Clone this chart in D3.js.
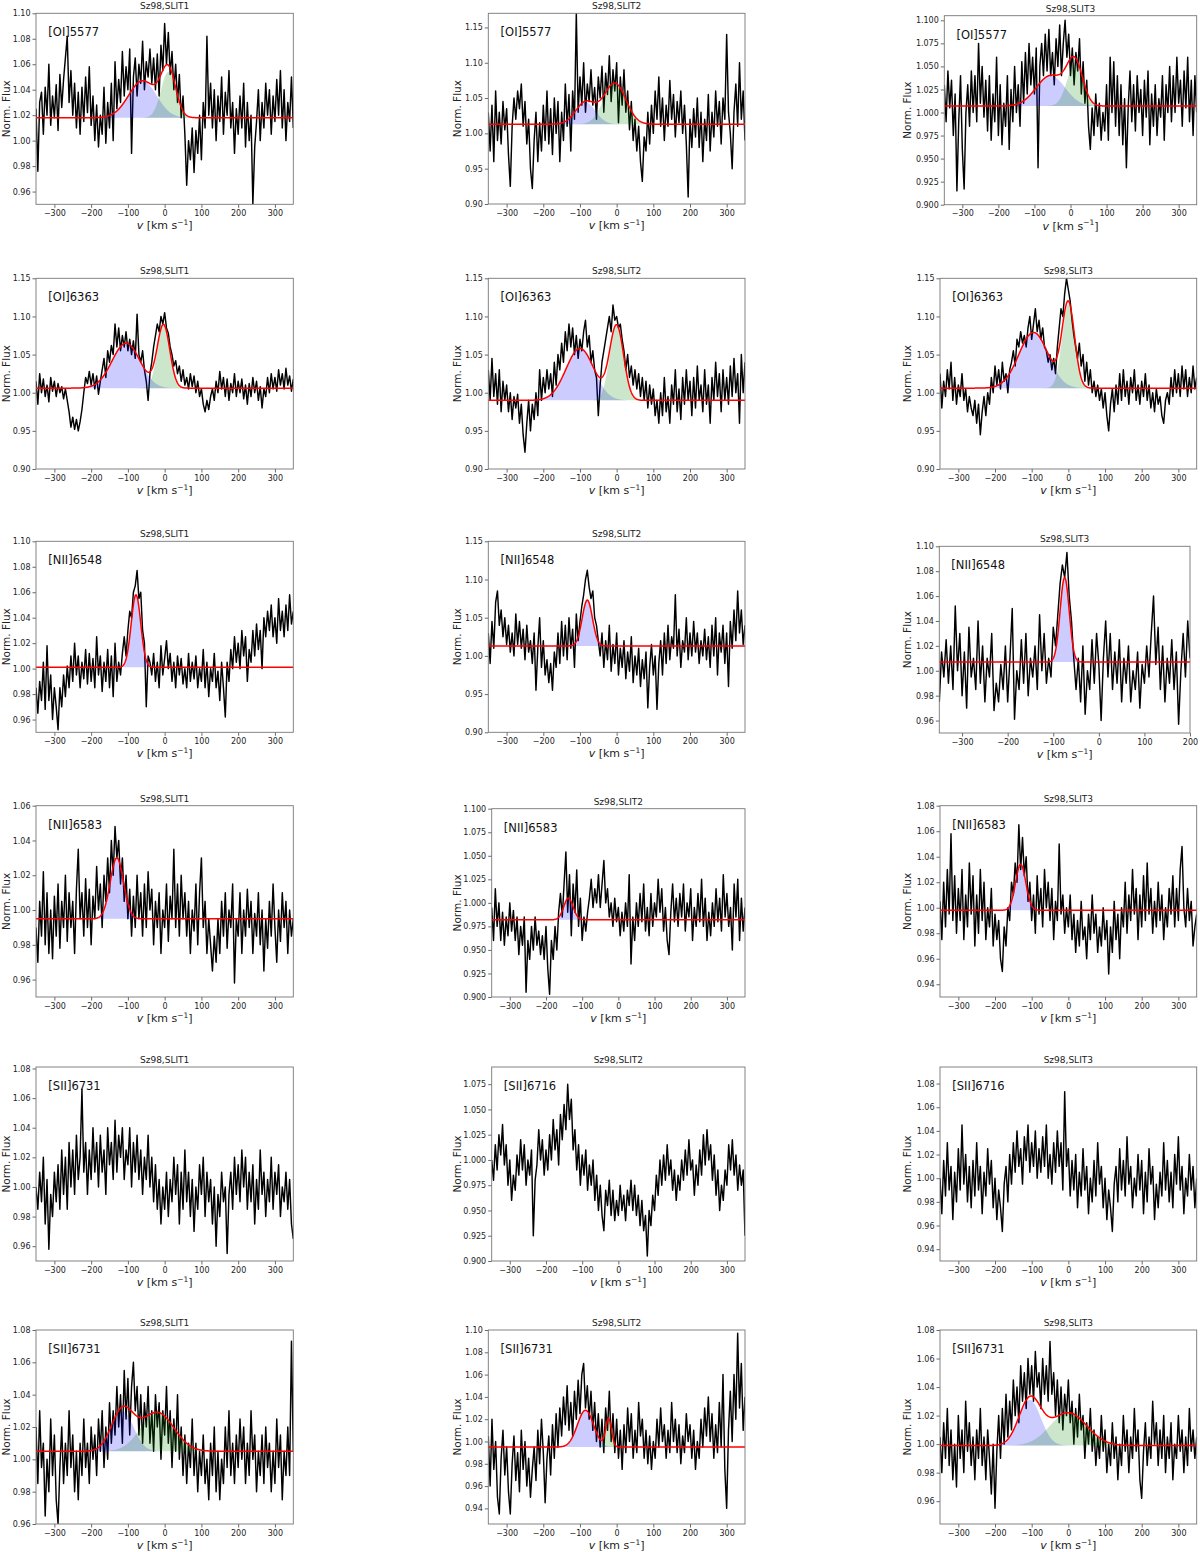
<!DOCTYPE html>
<html><head><meta charset="utf-8">
<script src="https://cdn.jsdelivr.net/npm/d3@7"></script>
<style>body{margin:0;background:#fff}svg{display:block}text{font-family:"DejaVu Sans",sans-serif}</style>
</head><body><svg id="c" width="1200" height="1552"></svg>
<script>
// ---------- DATA ----------
const velocityFull = d3.range(-350, 351, 5);   // km/s sampling grid
const velocityShort = d3.range(-350, 201, 5);

const lineNames = ["[OI]5577","[OI]5577","[OI]5577","[OI]6363","[OI]6363","[OI]6363",
  "[NII]6548","[NII]6548","[NII]6548","[NII]6583","[NII]6583","[NII]6583",
  "[SII]6731","[SII]6716","[SII]6716","[SII]6731","[SII]6731","[SII]6731"];
const slitNames = ["Sz98,SLIT1","Sz98,SLIT2","Sz98,SLIT3"];

const fluxOI5577_1 = [
1.025,0.976,1.030,1.038,1.005,1.042,1.020,1.060,1.012,1.035,
1.018,1.044,1.008,1.052,1.026,1.048,1.065,1.082,1.030,1.055,
1.020,1.045,1.010,1.038,1.005,1.042,1.015,1.050,1.022,1.058,
1.012,1.035,1.000,1.028,0.995,1.020,1.005,1.042,0.998,1.030,
1.010,1.045,1.000,1.062,1.025,1.048,1.030,1.070,1.035,1.058,
1.040,1.072,0.990,1.050,1.065,1.035,1.060,1.045,1.078,1.040,
1.062,1.050,1.072,1.045,1.065,1.040,1.068,1.035,1.075,1.055,
1.092,1.060,1.085,1.052,1.070,1.040,1.060,1.030,1.052,1.018,
1.035,1.005,0.965,1.000,0.985,1.010,0.975,1.008,0.990,1.020,
0.985,1.030,1.010,1.082,1.020,1.045,1.010,1.040,1.000,1.035,
1.015,1.050,1.005,1.038,1.020,1.055,1.010,1.030,0.990,1.025,
1.005,1.035,1.010,1.045,0.995,1.030,1.000,1.020,0.950,0.995,
1.015,1.040,1.000,1.030,1.010,1.045,1.020,1.040,1.005,1.035,
1.015,1.048,1.020,1.055,1.010,1.040,1.000,1.030,1.015,1.050,
1.010];
const fluxOI5577_2 = [
1.030,0.975,1.040,0.960,1.060,0.990,1.030,0.985,1.045,1.005,
1.035,0.970,0.925,1.010,1.050,1.020,1.060,1.035,1.070,1.010,
1.045,0.985,1.020,0.950,0.922,0.990,1.030,0.960,1.015,0.975,
1.040,0.990,1.060,0.985,1.035,0.970,1.050,1.000,1.045,0.960,
1.030,0.990,1.070,1.010,1.055,0.975,1.060,1.020,1.170,1.030,
1.080,1.040,1.100,1.030,1.070,1.045,1.090,1.040,1.065,1.020,
1.080,1.050,1.095,1.030,1.085,1.055,1.110,1.045,1.090,1.060,
1.100,1.015,1.080,1.040,1.090,1.030,1.060,1.005,1.045,0.990,
1.020,0.975,1.010,0.960,0.932,0.995,0.975,1.030,0.985,1.040,
1.000,1.060,1.020,1.080,1.010,1.050,0.990,1.040,1.010,1.075,
1.020,1.055,0.995,1.045,1.015,1.060,1.000,1.040,0.985,0.910,
1.020,0.980,1.035,0.995,1.050,0.980,1.030,0.960,1.020,0.990,
1.055,0.975,1.030,0.995,1.060,1.010,1.045,0.985,1.050,1.020,
1.140,1.030,1.000,0.950,1.030,1.070,1.010,1.100,1.020,1.060,
0.990];
const fluxOI5577_3 = [
1.030,0.990,1.045,1.005,1.035,0.975,1.020,0.915,0.990,1.040,
0.960,0.917,1.000,1.030,0.985,1.045,1.000,1.040,0.990,1.075,
1.010,1.050,0.995,1.035,0.980,1.040,0.970,1.020,0.990,1.060,
0.975,1.030,0.965,1.010,0.985,1.040,0.960,1.025,0.990,1.050,
1.000,1.030,0.985,1.055,1.010,1.065,1.020,1.075,1.030,1.060,
1.020,1.070,0.940,1.050,1.075,1.040,1.085,1.045,1.090,1.040,
1.065,1.030,1.080,1.050,1.095,1.040,1.075,1.100,1.060,1.085,
1.040,1.070,1.030,1.065,1.045,1.080,1.020,1.055,1.010,1.035,
0.985,0.960,1.005,0.975,1.020,0.985,1.010,0.970,1.000,0.980,
1.030,0.970,1.060,1.000,1.055,0.985,1.040,0.975,1.030,0.965,
1.015,0.940,1.005,1.045,0.990,1.030,0.980,1.040,1.000,1.025,
0.975,1.035,0.995,1.045,0.965,1.020,0.985,1.030,0.975,1.015,
0.995,1.040,0.970,1.030,1.000,1.050,0.990,1.040,1.000,1.060,
1.010,1.035,0.985,1.045,1.005,1.060,0.990,1.035,0.975,1.040,
1.000];
const fluxOI6363_1 = [
1.015,0.985,1.025,1.000,1.018,0.995,1.010,0.988,1.020,1.002,
1.015,0.995,1.012,1.000,1.008,0.992,1.005,0.990,0.975,0.955,
0.968,0.952,0.965,0.950,0.962,0.978,1.000,1.020,1.012,1.028,
1.010,1.025,1.005,1.022,0.998,1.015,1.030,1.045,1.020,1.055,
1.040,1.062,1.050,1.090,1.060,1.085,1.055,1.075,1.060,1.080,
1.055,1.070,1.050,1.068,1.045,1.103,1.050,1.040,1.055,1.030,
1.015,0.990,1.025,1.040,1.060,1.075,1.090,1.080,1.100,1.090,
1.105,1.085,1.078,1.060,1.050,1.035,1.042,1.025,1.035,1.015,
1.030,1.010,1.020,1.005,1.025,1.008,1.022,1.000,1.015,0.995,
1.005,0.985,0.975,0.990,0.978,0.995,1.005,0.990,1.015,1.000,
1.028,1.005,1.020,0.995,1.018,0.990,1.012,1.000,1.025,0.995,
1.015,1.000,1.018,0.992,1.010,0.985,1.012,0.995,1.020,1.000,
1.015,0.990,1.008,0.980,1.005,0.995,1.020,1.000,1.025,1.005,
1.020,1.002,1.030,1.010,1.025,1.005,1.032,1.010,1.022,1.002,
1.018];
const fluxOI6363_2 = [
1.030,0.990,1.045,0.995,1.025,0.985,1.030,0.975,1.015,0.990,
1.010,0.975,1.000,0.965,0.995,0.980,0.998,0.960,0.985,0.945,
0.922,0.960,0.990,0.950,0.985,0.965,1.000,0.970,1.030,0.990,
1.020,1.000,1.030,1.005,1.025,0.995,1.040,1.010,1.050,1.030,
1.065,1.040,1.080,1.055,1.090,1.060,1.085,1.050,1.075,1.045,
1.070,1.055,1.080,1.095,1.060,1.075,1.040,1.055,1.030,1.020,
0.970,1.010,1.040,1.055,1.070,1.085,1.100,1.080,1.115,1.095,
1.100,1.085,1.090,1.070,1.055,1.030,1.050,1.020,1.035,1.010,
1.030,1.005,1.025,0.995,1.020,0.990,1.015,0.980,1.010,0.985,
1.005,0.970,0.990,0.960,1.000,0.970,1.020,0.975,0.995,0.960,
1.010,0.985,1.030,0.975,1.005,0.965,1.020,0.985,1.030,0.990,
1.015,0.970,1.020,0.980,1.035,0.990,1.010,0.975,1.030,0.985,
1.010,0.960,1.020,0.990,1.040,0.995,1.025,0.975,1.030,0.990,
1.020,0.985,1.035,0.995,1.045,1.000,1.025,0.960,1.050,1.000,
1.040];
const fluxOI6363_3 = [
1.025,0.980,1.015,0.995,1.030,1.005,1.040,0.990,1.020,0.985,
1.010,0.995,1.025,0.990,1.005,0.975,0.995,0.980,0.970,0.990,
0.960,0.985,0.945,0.975,0.995,0.970,1.000,0.985,1.020,1.000,
1.035,1.010,1.030,1.005,1.040,1.015,1.025,1.000,1.030,1.040,
1.055,1.035,1.070,1.060,1.080,1.065,1.075,1.060,1.085,1.100,
1.070,1.090,1.110,1.080,1.095,1.070,1.085,1.060,1.055,1.040,
1.050,1.030,1.045,1.025,1.060,1.085,1.110,1.100,1.130,1.150,
1.135,1.120,1.095,1.075,1.060,1.045,1.065,1.035,1.050,1.015,
1.040,1.010,1.030,1.000,1.015,0.995,1.010,0.990,1.005,0.980,
1.000,0.970,0.950,0.985,1.005,0.975,1.010,0.985,1.025,0.990,
1.030,0.995,1.015,0.985,1.020,1.000,1.030,0.990,1.010,0.985,
1.015,0.995,1.025,0.990,1.010,0.980,1.000,0.975,1.005,0.985,
0.995,0.970,0.960,0.990,1.000,0.985,1.020,0.995,1.030,1.000,
1.025,0.995,1.035,1.005,1.030,0.995,1.020,1.000,1.035,1.005,
1.020];
const fluxNII6548_1 = [
0.985,0.965,0.990,0.975,1.005,0.968,1.018,0.975,0.995,0.960,
0.985,0.970,0.952,0.985,0.970,0.995,0.978,1.002,0.985,1.010,
0.990,1.020,0.995,1.010,0.985,1.005,0.992,1.015,0.988,1.012,
0.990,1.008,0.985,1.025,0.995,1.010,0.982,1.005,0.990,1.015,
0.985,1.010,0.978,1.020,0.990,1.005,0.995,1.012,1.025,1.010,
1.030,1.045,1.040,1.060,1.065,1.077,1.055,1.060,1.030,1.020,
0.970,1.010,1.005,0.995,1.012,0.990,1.005,0.985,1.018,0.995,
1.008,1.022,1.000,1.012,0.990,1.005,0.985,1.010,0.995,1.008,
0.988,1.000,0.985,1.012,0.990,1.005,0.992,1.010,0.985,1.000,
0.990,1.015,0.985,1.005,0.978,1.000,0.990,1.012,0.985,0.998,
0.975,1.005,0.985,0.962,1.005,0.990,1.015,1.000,1.025,1.005,
1.020,1.000,1.030,1.010,1.025,0.990,1.015,1.005,1.030,1.010,
1.035,1.015,1.030,1.000,1.040,1.025,1.045,1.030,1.050,1.025,
1.040,1.020,1.055,1.030,1.045,1.025,1.050,1.030,1.058,1.035,
1.045];
const fluxNII6548_2 = [
1.030,0.990,1.045,1.010,1.070,1.085,1.040,1.060,1.025,1.050,
1.015,1.040,1.005,1.030,1.000,1.055,1.015,1.045,1.010,1.035,
0.995,1.040,1.005,1.020,0.990,1.030,0.955,1.010,1.050,0.985,
1.020,0.975,0.995,0.965,0.990,0.955,1.005,0.985,1.030,0.990,
1.045,1.000,1.040,0.995,1.050,1.010,1.035,0.985,1.055,1.020,
1.045,1.065,1.080,1.100,1.112,1.090,1.075,1.085,1.050,1.040,
1.020,1.000,1.030,0.985,1.020,0.995,1.040,0.980,1.015,0.990,
1.030,0.975,1.010,0.985,1.020,0.970,1.005,0.980,1.025,0.965,
1.000,0.975,1.010,0.960,0.995,0.970,1.005,0.932,0.985,1.015,
0.975,1.000,0.930,0.990,1.020,0.975,1.030,0.990,1.040,0.995,
1.025,1.010,1.080,1.000,1.035,0.985,1.020,1.005,1.050,0.995,
1.030,1.000,1.045,1.005,1.030,0.990,1.020,1.000,1.035,0.995,
1.025,0.985,1.040,1.000,1.050,0.975,1.030,1.005,1.040,0.990,
1.030,0.960,1.045,1.010,1.060,1.020,1.085,1.030,1.060,1.015,
1.040];
const fluxNII6548_3 = [
0.975,1.015,0.995,1.025,0.990,1.020,0.985,1.052,1.000,1.030,
0.980,1.015,0.970,1.035,0.995,1.010,0.985,1.040,0.990,1.020,
0.975,1.010,0.995,1.030,0.968,0.990,0.975,1.005,0.985,1.020,
0.975,1.010,1.050,0.961,1.000,0.985,1.025,0.990,1.030,0.980,
1.010,0.995,1.020,0.985,1.045,1.000,1.030,0.990,1.010,0.995,
1.035,1.020,1.045,1.070,1.085,1.075,1.095,1.060,1.040,1.010,
0.985,1.010,0.975,1.020,0.965,1.000,0.985,1.025,0.990,1.030,
1.005,0.960,1.010,1.040,0.995,1.030,0.985,1.015,0.990,1.025,
0.975,1.010,0.990,1.020,0.975,1.000,0.985,1.015,0.970,1.005,
0.990,1.020,0.995,1.030,1.060,1.005,1.035,0.985,1.020,0.975,
1.010,0.990,1.025,0.985,1.015,0.957,1.000,1.030,0.995,1.040,
1.010];
const fluxNII6583_1 = [
0.990,0.970,1.005,0.985,1.022,0.980,1.010,0.975,1.000,0.972,
1.008,0.985,1.015,0.978,1.005,0.990,1.020,0.982,1.010,0.990,
1.005,0.975,1.012,1.035,0.995,1.010,0.985,1.018,0.990,1.012,
0.980,1.008,0.995,1.025,1.000,1.015,0.990,1.020,1.005,1.030,
1.010,1.040,1.020,1.048,1.030,1.040,1.015,1.030,1.005,1.020,
0.995,1.012,0.985,1.008,0.990,1.020,0.995,1.010,0.985,1.015,
0.990,1.022,1.000,1.012,0.980,1.005,0.990,1.010,0.975,1.000,
0.990,1.015,0.982,1.008,0.995,1.035,0.990,1.015,0.985,1.020,
0.995,1.010,0.985,1.005,0.975,1.000,0.988,1.015,0.980,1.010,
1.030,0.990,1.005,0.975,0.995,0.980,0.965,0.985,0.970,0.995,
0.975,1.005,0.985,1.010,0.978,1.000,0.990,1.015,0.958,0.995,
0.985,1.010,0.975,1.000,0.985,1.012,0.990,1.005,0.975,0.998,
0.985,1.010,0.980,1.000,0.965,0.995,0.978,1.005,0.985,1.015,
0.990,0.970,1.000,0.982,1.010,0.990,1.005,0.975,1.000,0.985,
0.995];
const fluxNII6583_2 = [
0.995,0.960,1.015,0.975,1.000,0.960,0.990,0.955,0.985,0.965,
1.000,0.970,0.992,0.960,0.985,0.945,0.975,0.955,0.985,0.905,
0.960,0.940,0.975,0.950,0.985,0.955,0.970,0.945,0.965,0.940,
0.975,0.930,0.903,0.960,0.940,0.975,0.950,0.990,1.010,0.985,
1.020,1.054,0.990,1.030,0.965,1.020,0.990,1.035,0.975,1.005,
0.960,0.985,0.970,0.990,1.005,1.025,0.995,1.015,1.000,1.030,
0.995,1.020,1.045,1.000,1.015,0.985,1.000,0.975,1.005,0.980,
0.995,0.965,0.990,0.970,1.000,0.975,1.030,0.935,0.985,0.960,
1.000,0.975,1.010,0.980,1.020,0.970,0.995,0.965,1.010,0.975,
1.000,0.985,1.025,0.990,1.015,0.970,0.995,0.960,0.945,0.990,
1.020,0.980,1.005,0.975,1.010,0.985,1.020,0.970,1.000,0.985,
1.015,0.960,0.995,0.975,1.010,0.980,1.025,0.975,1.005,0.960,
0.990,0.965,1.000,0.975,1.015,0.980,1.005,0.970,1.030,0.985,
1.010,0.975,0.995,0.950,1.020,0.985,1.025,0.960,1.005,0.970,
0.995];
const fluxNII6583_3 = [
1.005,0.975,1.020,0.985,1.030,0.995,1.058,0.990,1.025,0.980,
1.015,0.990,1.030,0.975,1.010,0.985,1.035,0.995,1.025,0.970,
1.010,0.980,1.030,0.990,1.020,0.975,1.000,0.985,1.015,0.970,
0.995,0.975,0.990,0.960,0.950,0.985,0.970,1.000,0.990,1.020,
1.010,1.035,1.020,1.065,1.030,1.055,1.025,1.040,1.005,1.020,
0.990,1.010,0.980,1.025,0.995,1.015,0.985,1.030,1.000,1.020,
0.990,1.015,0.975,1.005,0.990,1.050,0.995,1.010,0.980,1.000,
0.985,1.010,0.975,0.995,0.965,0.990,0.970,1.005,0.975,0.985,
0.960,0.995,0.975,1.010,0.980,0.995,0.965,0.985,0.970,1.000,
0.975,0.990,0.948,0.985,0.965,1.005,0.975,0.995,0.960,1.000,
0.985,1.020,0.980,1.010,0.990,1.030,0.995,1.015,0.975,1.010,
0.985,1.025,0.990,1.035,0.995,1.015,0.980,1.005,0.985,1.020,
0.990,1.010,0.975,1.000,0.985,1.015,0.995,1.025,0.985,1.015,
0.990,1.030,1.048,1.000,0.985,1.015,0.990,1.005,0.970,0.985,
0.995];
const fluxSII_r5_1 = [
1.000,0.985,1.010,0.990,1.020,0.975,1.005,0.958,0.995,0.980,
1.010,0.990,1.015,0.985,1.025,0.995,1.020,0.985,1.030,1.000,
1.025,0.995,1.035,1.005,1.020,1.066,1.010,1.030,0.995,1.025,
1.005,1.040,1.010,1.030,1.000,1.035,1.010,1.025,0.995,1.040,
1.015,1.030,1.005,1.045,1.010,1.035,1.020,1.040,1.005,1.025,
1.015,1.040,1.000,1.030,1.010,1.035,1.005,1.025,0.995,1.020,
1.005,1.035,1.000,1.020,0.990,1.015,0.985,1.005,0.975,1.000,
0.985,1.010,0.980,1.005,0.990,1.020,0.995,1.015,0.975,1.010,
0.985,1.025,0.990,1.010,0.980,1.005,0.970,1.000,0.985,1.015,
0.995,1.020,0.980,1.010,0.990,1.005,0.975,1.000,0.960,0.995,
0.980,1.010,0.990,1.000,0.955,0.995,1.010,0.985,1.020,0.995,
1.015,0.990,1.025,1.000,1.020,0.985,1.010,0.990,1.015,0.975,
1.005,0.985,1.025,0.995,1.010,0.980,1.005,0.990,1.020,0.985,
1.010,0.995,1.015,0.980,1.000,0.990,1.010,0.985,1.005,0.975,
0.965];
const fluxSII_r5_2 = [
1.000,0.980,1.015,0.990,1.025,1.005,1.035,0.995,1.015,0.975,
1.000,0.960,0.985,0.970,1.005,0.985,1.020,0.990,1.015,0.975,
1.000,0.985,1.010,0.925,0.980,0.995,1.030,1.000,1.020,0.985,
1.010,0.990,1.025,1.000,1.040,1.010,1.030,0.995,1.045,1.020,
1.055,1.030,1.075,1.040,1.060,1.010,1.030,0.990,1.015,0.975,
1.005,0.985,1.010,0.970,0.995,0.975,1.000,0.960,0.985,0.950,
0.975,0.945,0.930,0.970,0.955,0.980,0.945,0.970,0.940,0.960,
0.945,0.975,0.950,0.965,0.940,0.970,0.955,0.980,0.950,0.975,
0.945,0.965,0.935,0.960,0.930,0.945,0.905,0.950,0.935,0.965,
0.950,0.985,0.965,1.000,0.975,1.005,0.980,1.015,0.985,1.000,
0.970,0.990,0.960,0.985,0.970,1.000,0.980,1.010,0.985,1.020,
0.990,1.000,0.965,0.995,0.975,1.010,0.985,1.025,0.995,1.030,
1.000,1.015,0.980,1.005,0.965,0.990,0.950,0.975,0.960,0.990,
0.975,1.015,0.990,1.020,0.985,1.005,0.970,0.995,0.975,0.990,
0.925];
const fluxSII_r5_3 = [
1.000,0.970,1.015,0.985,1.030,0.990,1.010,0.965,1.005,0.980,
1.025,0.990,1.045,0.995,1.020,0.980,1.010,0.975,1.015,0.985,
1.030,0.990,1.010,0.970,1.005,0.985,1.025,0.995,1.015,0.975,
1.000,0.965,0.990,0.975,0.955,0.995,1.010,0.980,1.020,0.995,
1.030,1.005,1.040,1.010,1.025,0.995,1.035,1.015,1.045,1.005,
1.030,1.010,1.040,1.000,1.025,1.005,1.035,1.010,1.045,1.000,
1.020,0.995,1.030,1.005,1.040,1.010,1.030,0.990,1.073,1.010,
1.025,0.985,1.015,0.990,1.020,0.975,1.005,0.985,1.025,0.990,
1.010,0.970,1.000,0.980,1.015,0.985,1.030,0.995,1.010,0.975,
1.000,0.965,0.990,0.975,0.955,0.995,1.010,0.980,1.025,0.990,
1.015,0.985,1.035,0.995,1.010,0.975,1.000,0.985,1.020,0.990,
1.015,0.970,1.005,0.980,1.025,0.995,1.010,0.965,0.995,0.975,
1.005,0.985,1.030,0.990,1.015,0.980,1.005,0.975,1.020,0.995,
1.035,0.990,1.010,0.970,1.000,0.985,1.020,0.990,1.010,0.975,
1.000];
const fluxSII6731_1 = [
1.020,0.985,1.030,0.995,1.010,0.965,1.000,0.980,1.025,0.990,
1.015,0.975,0.960,0.995,1.020,0.985,1.010,0.990,1.030,0.995,
1.015,0.980,1.005,0.975,1.010,0.990,1.025,0.995,1.010,0.985,
1.020,1.000,1.015,0.990,1.025,1.005,1.030,0.995,1.020,1.000,
1.035,1.010,1.030,1.015,1.045,1.020,1.040,1.010,1.055,1.025,
1.050,1.015,1.045,1.060,1.030,1.045,1.015,1.040,1.010,1.035,
1.020,1.045,1.010,1.030,1.005,1.040,1.020,1.035,1.000,1.030,
1.015,1.045,1.010,1.030,0.995,1.025,1.005,1.040,1.000,1.020,
0.990,1.015,0.985,1.010,0.995,1.025,0.990,1.010,0.980,1.005,
0.990,1.015,0.985,1.000,0.975,1.010,0.990,1.020,0.980,1.005,
0.975,1.000,0.985,1.020,0.995,1.030,0.990,1.010,0.985,1.015,
0.995,1.025,1.000,1.020,0.985,1.010,0.990,1.030,1.000,1.015,
0.980,1.005,0.990,1.015,0.985,1.020,0.995,1.010,0.980,1.005,
0.985,1.025,0.995,1.015,0.975,1.005,0.990,1.020,0.990,1.073,
1.005];
const fluxSII6731_2 = [
1.005,0.960,1.020,0.975,1.000,0.950,0.935,0.985,1.010,0.970,
0.995,0.955,0.935,0.980,1.005,0.965,0.990,0.955,1.010,0.975,
1.000,0.960,0.985,0.950,0.975,0.995,0.965,1.010,0.980,1.020,
0.990,0.945,0.985,1.005,0.970,1.015,0.985,1.025,0.995,1.030,
1.005,1.040,1.015,1.050,1.010,1.035,1.005,1.045,1.020,1.055,
1.025,1.060,1.070,1.030,1.050,1.020,1.045,1.010,1.035,1.000,
1.025,0.995,1.020,0.990,1.030,1.010,1.045,1.000,1.025,0.990,
1.020,0.985,1.010,0.975,1.015,0.990,1.030,1.000,1.025,0.985,
1.010,0.990,1.035,1.005,1.020,0.985,1.010,0.980,1.005,0.975,
1.000,0.985,1.020,0.995,1.030,1.000,1.015,0.985,1.010,0.990,
1.035,1.000,1.020,0.990,1.015,0.980,1.005,0.990,1.025,1.000,
1.015,0.985,1.010,0.975,1.000,0.985,1.020,0.995,1.030,1.005,
1.040,1.000,1.025,0.985,1.015,0.990,1.035,0.995,1.060,0.975,
0.940,1.010,1.045,1.000,1.060,1.020,1.097,1.030,1.070,1.010,
1.040];
const fluxSII6731_3 = [
1.005,0.980,1.015,0.990,1.025,0.985,1.010,0.975,1.000,0.970,
1.020,0.990,1.010,0.980,1.030,0.995,1.015,0.985,1.005,0.975,
1.010,0.990,1.025,0.985,1.005,0.975,1.010,0.990,0.965,1.000,
0.955,0.995,1.020,0.990,1.025,1.000,1.035,1.005,1.030,1.010,
1.045,1.020,1.040,1.015,1.055,1.030,1.050,1.025,1.060,1.035,
1.055,1.030,1.065,1.040,1.050,1.025,1.060,1.035,1.055,1.030,
1.072,1.035,1.050,1.020,1.045,1.015,1.040,1.010,1.035,1.020,
1.045,1.015,1.030,1.000,1.025,1.005,1.035,1.010,1.020,0.990,
1.015,1.000,1.025,0.995,1.010,0.985,1.005,0.990,1.020,0.995,
1.010,0.980,1.000,0.985,1.015,0.990,1.005,0.975,1.000,0.985,
1.020,0.995,1.010,0.980,1.005,0.990,1.025,0.995,1.010,0.975,
0.962,0.995,1.015,0.985,1.005,0.990,1.030,1.000,1.015,0.985,
1.010,0.990,1.020,0.980,1.005,0.990,1.015,0.975,1.000,0.990,
1.020,0.995,1.010,0.980,1.005,0.985,1.025,0.995,1.010,0.990,
1.005];

const spectra = [fluxOI5577_1, fluxOI5577_2, fluxOI5577_3, fluxOI6363_1, fluxOI6363_2, fluxOI6363_3,
  fluxNII6548_1, fluxNII6548_2, fluxNII6548_3, fluxNII6583_1, fluxNII6583_2, fluxNII6583_3,
  fluxSII_r5_1, fluxSII_r5_2, fluxSII_r5_3, fluxSII6731_1, fluxSII6731_2, fluxSII6731_3];
const grids = spectra.map((s, i) => i === 8 ? velocityShort : velocityFull);

// Gaussian fit components: [centre km/s, amplitude, sigma km/s]
const fitContinuum = [1.018,1.013,1.007, 1.006,0.990,1.006, 1.001,1.013,1.007, 0.995,0.982,0.998, null,null,null, 1.005,0.995,0.999];
const fitBlue = [[-60,0.029,38],[-85,0.031,27],[-55,0.033,40],
  [-105,0.059,38],[-100,0.068,38],[-95,0.073,40],
  [-78,0.057,13],[-80,0.060,14],[-75,0.068,10],
  [-130,0.035,18],[-138,0.023,13],[-130,0.036,14],
  null,null,null,
  [-115,0.025,30],[-85,0.033,22],[-105,0.032,30]];
const fitGreen = [[10,0.036,20],[-5,0.058,30],[12,0.045,22],
  [-3,0.082,17],[0,0.097,19],[0,0.110,17],
  null,null,null, null,null,null, null,null,null,
  [-20,0.024,45],[-22,0.025,8],[0,0.023,50]];

const yDomains = [[0.95,1.10],[0.90,1.17],[0.90,1.105],[0.90,1.15],[0.90,1.15],[0.90,1.15],
  [0.95,1.10],[0.90,1.15],[0.95,1.10],[0.95,1.06],[0.90,1.10],[0.93,1.08],
  [0.95,1.081],[0.90,1.092],[0.93,1.094],[0.96,1.08],[0.926,1.10],[0.944,1.08]];
const xDomains = spectra.map((s,i) => i === 8 ? [-350,200] : [-350,350]);
const yTickLists = [
  [0.96,0.98,1.00,1.02,1.04,1.06,1.08,1.10],
  [0.90,0.95,1.00,1.05,1.10,1.15],
  [0.900,0.925,0.950,0.975,1.000,1.025,1.050,1.075,1.100],
  [0.90,0.95,1.00,1.05,1.10,1.15],
  [0.90,0.95,1.00,1.05,1.10,1.15],
  [0.90,0.95,1.00,1.05,1.10,1.15],
  [0.96,0.98,1.00,1.02,1.04,1.06,1.08,1.10],
  [0.90,0.95,1.00,1.05,1.10,1.15],
  [0.96,0.98,1.00,1.02,1.04,1.06,1.08,1.10],
  [0.96,0.98,1.00,1.02,1.04,1.06],
  [0.900,0.925,0.950,0.975,1.000,1.025,1.050,1.075,1.100],
  [0.94,0.96,0.98,1.00,1.02,1.04,1.06,1.08],
  [0.96,0.98,1.00,1.02,1.04,1.06,1.08],
  [0.900,0.925,0.950,0.975,1.000,1.025,1.050,1.075],
  [0.94,0.96,0.98,1.00,1.02,1.04,1.06,1.08],
  [0.96,0.98,1.00,1.02,1.04,1.06,1.08],
  [0.94,0.96,0.98,1.00,1.02,1.04,1.06,1.08,1.10],
  [0.96,0.98,1.00,1.02,1.04,1.06,1.08]];
const yTickDecimals = [2,2,3,2,2,2,2,2,2,2,3,2,2,3,2,2,2,2];
const xTickLists = spectra.map((s,i) => i === 8 ? [-300,-200,-100,0,100,200] : [-300,-200,-100,0,100,200,300]);

// ---------- LAYOUT ----------
const boxes = [
  [36,13.3,293.3,204.3],[488.3,13.3,745,204],[944.3,15.7,1196.7,204.7],
  [36,278.3,293.3,469],[488.3,278.3,745,469],[940,278.3,1196.7,469],
  [36,541.3,293.3,732.3],[488.3,541.3,745,732.3],[939.3,546.3,1190,733],
  [36,805.7,293.3,997],[491.7,808.7,745,997],[940,805.7,1196.7,997],
  [36,1067,293.3,1261],[491.7,1067,745,1261],[940,1067,1196.7,1261],
  [36,1330,293.3,1524],[488.3,1330,745,1524],[940,1330,1196.7,1524]];
const yLabelX = [6, 457.5, 907.5];

const svg = d3.select("#c");
const defs = svg.append("defs");
const minus = s => String(s).replace("-", "\u2212");
const gauss = (c, v) => c ? c[1] * Math.exp(-((v - c[0]) ** 2) / (2 * c[2] * c[2])) : 0;

spectra.forEach((flux, i) => {
  const [l, t, r, b] = boxes[i];
  const col = i % 3;
  const x = d3.scaleLinear().domain(xDomains[i]).range([l, r]);
  const y = d3.scaleLinear().domain(yDomains[i]).range([b, t]);
  const g = svg.append("g");
  defs.append("clipPath").attr("id", "cp" + i).append("rect")
    .attr("x", l).attr("y", t).attr("width", r - l).attr("height", b - t);
  const plot = g.append("g").attr("clip-path", `url(#cp${i})`);
  const vs = grids[i];
  plot.append("path").datum(flux.map((f, k) => [vs[k], f]))
    .attr("d", d3.line().x(d => x(d[0])).y(d => y(d[1])))
    .attr("fill", "none").attr("stroke", "#000").attr("stroke-width", 1.45).attr("stroke-linejoin", "round");

  const base = fitContinuum[i];
  if (base !== null) {
    const fine = d3.range(xDomains[i][0], xDomains[i][1] + 0.5, 1);
    [[fitBlue[i], "rgba(0,0,255,0.2)"], [fitGreen[i], "rgba(0,128,0,0.2)"]].forEach(([c, fill]) => {
      if (!c) return;
      plot.append("path").datum(fine)
        .attr("d", d3.area().x(v => x(v)).y0(y(base)).y1(v => y(base + gauss(c, v))))
        .attr("fill", fill);
    });
    plot.append("path").datum(fine)
      .attr("d", d3.line().x(v => x(v)).y(v => y(base + gauss(fitBlue[i], v) + gauss(fitGreen[i], v))))
      .attr("fill", "none").attr("stroke", "#ff0000").attr("stroke-width", 1.5);
  }

  // axes
  const xa = g.append("g").attr("transform", `translate(0,${b})`)
    .call(d3.axisBottom(x).tickValues(xTickLists[i]).tickSize(3.5).tickPadding(2.5).tickFormat(d => minus(d)));
  const ya = g.append("g").attr("transform", `translate(${l},0)`)
    .call(d3.axisLeft(y).tickValues(yTickLists[i]).tickSize(3.5).tickPadding(2).tickFormat(d => d.toFixed(yTickDecimals[i])));
  [xa, ya].forEach(a => {
    a.select(".domain").remove();
    a.selectAll("line").attr("stroke", "#444").attr("stroke-width", 0.8);
    a.selectAll("text").attr("fill", "#222").style("font-size", "8px").style("font-family", "DejaVu Sans, sans-serif");
  });
  g.append("rect").attr("x", l).attr("y", t).attr("width", r - l).attr("height", b - t)
    .attr("fill", "none").attr("stroke", "#777").attr("stroke-width", 0.9);

  // texts
  g.append("text").attr("x", (l + r) / 2).attr("y", t - 4).attr("text-anchor", "middle")
    .style("font-size", "9px").attr("fill", "#222").text(slitNames[col]);
  g.append("text").attr("x", l + 0.048 * (r - l)).attr("y", t + 0.1 * (b - t)).attr("dy", "0.35em")
    .style("font-size", "11.5px").attr("fill", "#111").text(lineNames[i]);
  g.append("text").attr("transform", `translate(${yLabelX[col]},${(t + b) / 2}) rotate(-90)`)
    .attr("text-anchor", "middle").attr("dy", "0.35em").style("font-size", "10.5px").attr("fill", "#222").text("Norm. Flux");
  const xl = g.append("text").attr("x", (l + r) / 2).attr("y", b + 25).attr("text-anchor", "middle")
    .style("font-size", "11px").attr("fill", "#222");
  xl.append("tspan").style("font-style", "italic").text("v");
  xl.append("tspan").text(" [km s");
  xl.append("tspan").attr("dy", -4.5).style("font-size", "7.5px").text("\u22121");
  xl.append("tspan").attr("dy", 4.5).text("]");
});
</script></body></html>
